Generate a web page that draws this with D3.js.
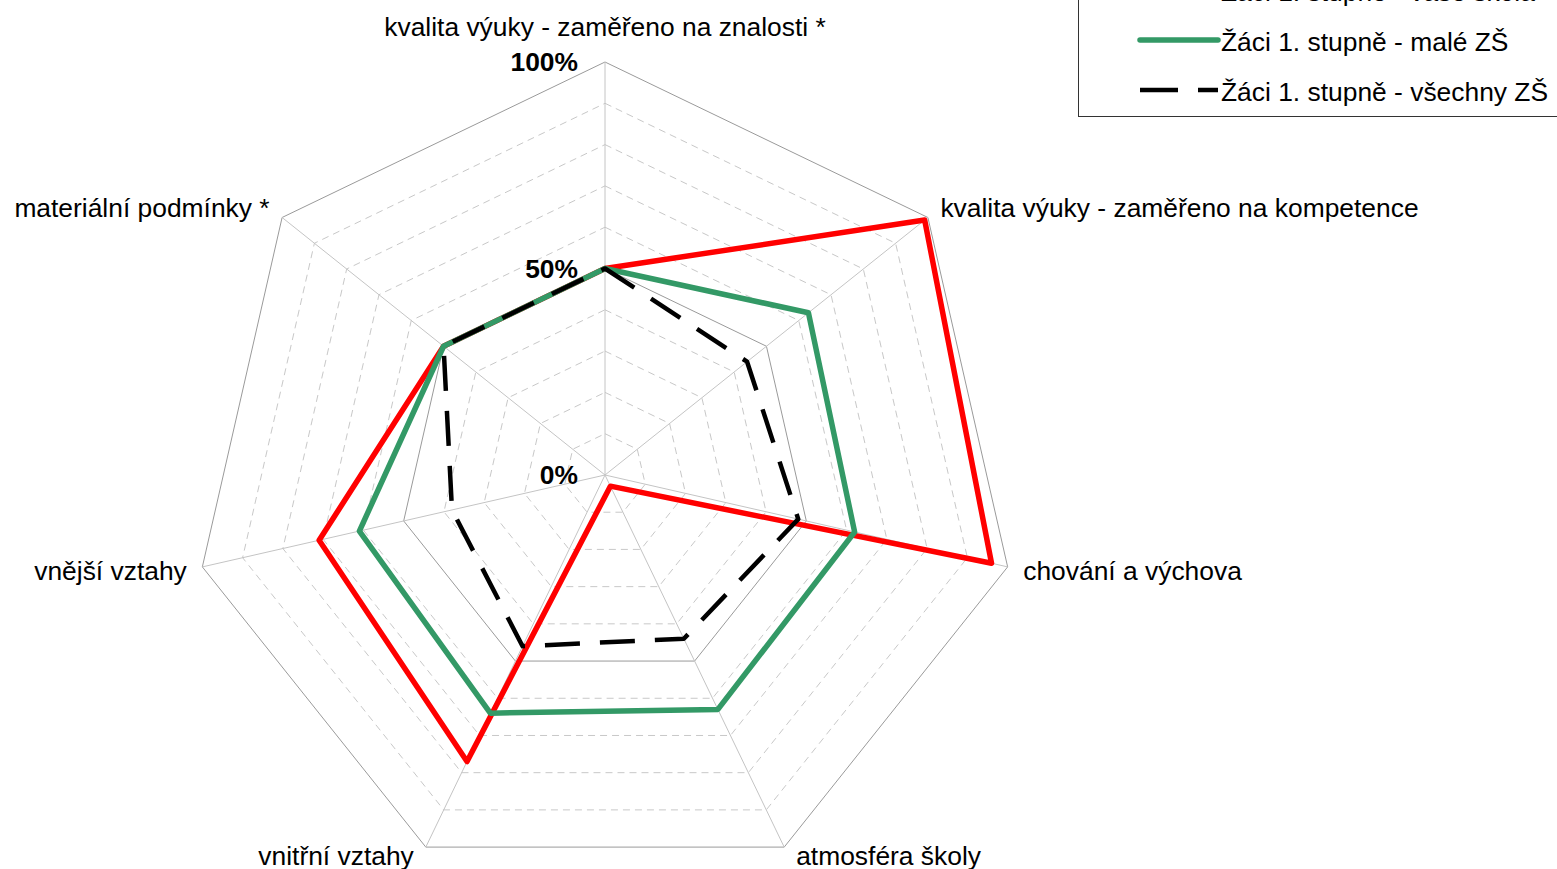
<!DOCTYPE html>
<html>
<head>
<meta charset="utf-8">
<script src="https://cdn.jsdelivr.net/npm/d3@7"></script>
<style>
  html, body { margin: 0; padding: 0; background: #fff; }
  svg { display: block; font-family: "Liberation Sans", Arial, sans-serif; }
</style>
</head>
<body>
<svg id="chart" width="1557" height="869"></svg>
<script>
// Categories (clockwise from the top)
const categories = [
  "kvalita výuky - zaměřeno na znalosti *",
  "kvalita výuky - zaměřeno na kompetence",
  "chování a výchova",
  "atmosféra školy",
  "vnitřní vztahy",
  "vnější vztahy",
  "materiální podmínky *"
];

// Series values (percent)
const seriesNames = [
  "Žáci 1. stupně - vaše škola",
  "Žáci 1. stupně - malé ZŠ",
  "Žáci 1. stupně - všechny ZŠ"
];
const vaseSkola   = [50, 99, 96, 3, 77, 71, 50];
const maleZS      = [50, 63, 62, 63, 64, 61, 50];
const vsechnyZS   = [50, 44, 48, 44, 46, 38, 50];

// Radial tick labels
const tickValues = [0, 50, 100];
const tickLabels = ["0%", "50%", "100%"];
const gridLevels = [10, 20, 30, 40, 50, 60, 70, 80, 90, 100];

const FONT = 26.4;
const svg = d3.select("#chart");
const cx = 605, cy = 475, R = 413;

const r = d3.scaleLinear().domain([0, 100]).range([0, R]);
const angle = d3.scaleLinear().domain([0, categories.length]).range([0, 2 * Math.PI]);

const g = svg.append("g").attr("transform", `translate(${cx},${cy})`);

const pt = (i, v) => {
  const a = angle(i) - Math.PI / 2;
  return [Math.cos(a) * r(v), Math.sin(a) * r(v)];
};

// Grid rings
const ring = d3.lineRadial()
  .angle((d, i) => angle(i))
  .radius(d => r(d))
  .curve(d3.curveLinearClosed);

gridLevels.forEach(lv => {
  const solid = lv === 50 || lv === 100;
  g.append("path")
    .attr("d", ring(categories.map(() => lv)))
    .attr("fill", "none")
    .attr("stroke", solid ? "#9a9a9a" : "#c8c8c8")
    .attr("stroke-width", 1)
    .attr("stroke-dasharray", solid ? null : "7,5");
});

// Spokes
categories.forEach((c, i) => {
  const [x, y] = pt(i, 100);
  g.append("line")
    .attr("x1", 0).attr("y1", 0).attr("x2", x).attr("y2", y)
    .attr("stroke", "#c4c4c4").attr("stroke-width", 1);
});

// Category labels
categories.forEach((c, i) => {
  const a = angle(i) - Math.PI / 2;
  const [vx, vy] = pt(i, 100);
  const cos = Math.cos(a), sin = Math.sin(a);
  let x, y, anchor;
  if (Math.abs(cos) < 0.05) {
    x = vx; y = vy - 35; anchor = "middle";
  } else {
    anchor = cos > 0 ? "start" : "end";
    x = vx + Math.sign(cos) * Math.max(12, 16 * Math.abs(cos));
    y = vy + (sin < 0 ? 15 : 10) * sin + (Math.abs(sin) < 0.5 ? 2 : 0);
  }
  g.append("text")
    .attr("x", x).attr("y", y)
    .attr("text-anchor", anchor)
    .attr("dominant-baseline", "central")
    .attr("font-size", FONT)
    .attr("fill", "#000")
    .text(c);
});

// Series polygons
const seriesData = [vaseSkola, maleZS, vsechnyZS];
const seriesStyle = [
  { color: "#ff0000", width: 5.5, dash: null },
  { color: "#339966", width: 5.5, dash: null },
  { color: "#000000", width: 4.5, dash: "35,20" }
];

seriesData.forEach((vals, k) => {
  const s = seriesStyle[k];
  g.append("path")
    .attr("d", ring(vals))
    .attr("fill", "none")
    .attr("stroke", s.color)
    .attr("stroke-width", s.width)
    .attr("stroke-linejoin", "round")
    .attr("stroke-dasharray", s.dash);
});

// Radial tick labels
tickValues.forEach((v, i) => {
  g.append("text")
    .attr("x", -27)
    .attr("y", -r(v))
    .attr("text-anchor", "end")
    .attr("dominant-baseline", "central")
    .attr("font-size", FONT)
    .attr("font-weight", "bold")
    .attr("fill", "#000")
    .text(tickLabels[i]);
});

// Legend
const legend = svg.append("g");
legend.append("rect")
  .attr("x", 1078.5).attr("y", -60)
  .attr("width", 520).attr("height", 176.5)
  .attr("fill", "#fff")
  .attr("stroke", "#333").attr("stroke-width", 1);

const legendY = [-10, 40, 90];
seriesNames.forEach((name, k) => {
  const s = seriesStyle[k];
  legend.append("line")
    .attr("x1", 1140).attr("x2", 1218)
    .attr("y1", legendY[k]).attr("y2", legendY[k])
    .attr("stroke", s.color)
    .attr("stroke-width", s.width)
    .attr("stroke-linecap", k === 2 ? "butt" : "round")
    .attr("stroke-dasharray", s.dash ? "38,20" : null);
  legend.append("text")
    .attr("x", 1221).attr("y", legendY[k] + 2)
    .attr("dominant-baseline", "central")
    .attr("font-size", FONT)
    .attr("fill", "#000")
    .text(name);
});
</script>
</body>
</html>
